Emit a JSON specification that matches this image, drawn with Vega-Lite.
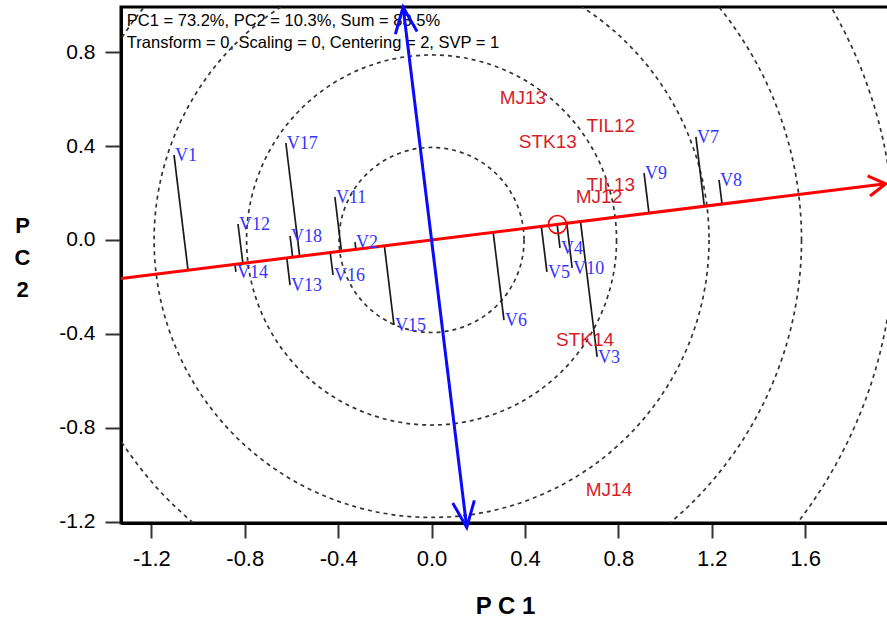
{
  "$schema": "https://vega.github.io/schema/vega-lite/v6.json",
  "width": 768,
  "height": 516,
  "autosize": "none",
  "padding": {"left": 121, "top": 7, "right": 0, "bottom": 95},
  "background": "white",
  "config": {
    "view": {"stroke": "black", "strokeWidth": 3},
    "font": "Liberation Sans"
  },
  "datasets": {
    "notes": [
      {"text": "PC1 = 73.2%, PC2 = 10.3%, Sum = 83.5%", "x": -1.305, "y": 0.933},
      {"text": "Transform = 0, Scaling = 0, Centering = 2, SVP = 1", "x": -1.305, "y": 0.839}
    ],
    "circles": [
      {"x": 0, "y": 0, "r": 0.395},
      {"x": 0, "y": 0, "r": 0.79},
      {"x": 0, "y": 0, "r": 1.185},
      {"x": 0, "y": 0, "r": 1.58},
      {"x": 0, "y": 0, "r": 1.975}
    ],
    "genotypes": [
      {"name": "V1", "x": -1.103, "y": 0.362, "projx": -1.043, "projy": -0.128},
      {"name": "V17", "x": -0.624, "y": 0.413, "projx": -0.565, "projy": -0.069},
      {"name": "V12", "x": -0.829, "y": 0.068, "projx": -0.808, "projy": -0.099},
      {"name": "V14", "x": -0.838, "y": -0.136, "projx": -0.842, "projy": -0.104},
      {"name": "V18", "x": -0.606, "y": 0.017, "projx": -0.595, "projy": -0.073},
      {"name": "V13", "x": -0.606, "y": -0.192, "projx": -0.62, "projy": -0.076},
      {"name": "V11", "x": -0.414, "y": 0.183, "projx": -0.386, "projy": -0.047},
      {"name": "V16", "x": -0.422, "y": -0.149, "projx": -0.434, "projy": -0.053},
      {"name": "V2", "x": -0.328, "y": -0.009, "projx": -0.324, "projy": -0.04},
      {"name": "V15", "x": -0.161, "y": -0.362, "projx": -0.202, "projy": -0.025},
      {"name": "V6", "x": 0.31, "y": -0.341, "projx": 0.264, "projy": 0.032},
      {"name": "V5", "x": 0.494, "y": -0.136, "projx": 0.47, "projy": 0.058},
      {"name": "V4", "x": 0.55, "y": -0.034, "projx": 0.538, "projy": 0.066},
      {"name": "V10", "x": 0.602, "y": -0.119, "projx": 0.579, "projy": 0.071},
      {"name": "V3", "x": 0.709, "y": -0.498, "projx": 0.638, "projy": 0.078},
      {"name": "V9", "x": 0.91, "y": 0.285, "projx": 0.931, "projy": 0.115},
      {"name": "V7", "x": 1.132, "y": 0.439, "projx": 1.168, "projy": 0.144},
      {"name": "V8", "x": 1.231, "y": 0.256, "projx": 1.244, "projy": 0.153}
    ],
    "environments": [
      {"name": "MJ13", "x": 0.391, "y": 0.605},
      {"name": "TIL12", "x": 0.768, "y": 0.486},
      {"name": "STK13", "x": 0.498, "y": 0.417},
      {"name": "TIL13", "x": 0.768, "y": 0.234},
      {"name": "MJ12", "x": 0.717, "y": 0.183},
      {"name": "STK14", "x": 0.657, "y": -0.426},
      {"name": "MJ14", "x": 0.76, "y": -1.065}
    ],
    "axesLines": [
      {"line": "AEA", "x": -1.33, "y": -0.1636, "x2": 1.945, "y2": 0.2392},
      {"line": "ATC", "x": -0.122, "y": 0.992, "x2": 0.1506, "y2": -1.224}
    ],
    "arrows": [
      {"line": "AEA", "end": "right", "x": 1.945, "y": 0.2392},
      {"line": "ATC", "end": "top", "x": -0.122, "y": 0.992},
      {"line": "ATC", "end": "bottom", "x": 0.1506, "y": -1.224}
    ],
    "meanEnv": [
      {"x": 0.539, "y": 0.066}
    ]
  },
  "encoding": {
    "x": {
      "field": "x",
      "type": "quantitative",
      "scale": {"domain": [-1.33, 1.959], "nice": false, "zero": false},
      "axis": {
        "values": [-1.2, -0.8, -0.4, 0, 0.4, 0.8, 1.2, 1.6],
        "labelExpr": "replace(format(datum.value, '.1f'), '\u2212', '-')",
        "grid": false,
        "domainColor": "black",
        "domainWidth": 3,
        "tickColor": "#333333",
        "tickWidth": 2,
        "tickSize": 15,
        "labelFont": "Liberation Sans",
        "labelFontSize": 22,
        "labelColor": "black",
        "labelPadding": 10,
        "title": "P C 1",
        "titleFont": "Liberation Sans",
        "titleFontSize": 24,
        "titleFontWeight": "bold",
        "titleColor": "black",
        "titleBaseline": "middle",
        "titleY": 83
      }
    },
    "y": {
      "field": "y",
      "type": "quantitative",
      "scale": {"domain": [-1.205, 0.992], "nice": false, "zero": false},
      "axis": {
        "values": [-1.2, -0.8, -0.4, 0, 0.4, 0.8],
        "labelExpr": "replace(format(datum.value, '.1f'), '\u2212', '-')",
        "grid": false,
        "domainColor": "black",
        "domainWidth": 3,
        "tickColor": "#333333",
        "tickWidth": 2,
        "tickSize": 16,
        "labelFont": "Liberation Sans",
        "labelFontSize": 21,
        "labelColor": "black",
        "labelPadding": 10,
        "title": ["P", "C", "2"],
        "titleAngle": 0,
        "titleFont": "Liberation Sans",
        "titleFontSize": 22,
        "titleFontWeight": "bold",
        "titleColor": "black",
        "titleLineHeight": 32,
        "titleAlign": "center",
        "titleBaseline": "middle",
        "titleX": -99,
        "titleY": 218
      }
    }
  },
  "layer": [
    {
      "data": {"name": "notes"},
      "mark": {"type": "text", "align": "left", "baseline": "middle", "font": "Liberation Sans", "fontSize": 16.5, "color": "black"},
      "encoding": {"text": {"field": "text"}}
    },
    {
      "data": {"name": "circles"},
      "mark": {"type": "point", "shape": "circle", "filled": false, "clip": true, "stroke": "#333333", "strokeWidth": 1.7, "strokeDash": [4, 4], "opacity": 1},
      "encoding": {
        "size": {"field": "r", "type": "quantitative", "scale": {"type": "pow", "exponent": 2, "domain": [0, 2], "range": [0, 877219]}, "legend": null}
      }
    },
    {
      "data": {"name": "genotypes"},
      "mark": {"type": "rule", "color": "#1a1a1a", "strokeWidth": 1.7},
      "encoding": {
        "x2": {"field": "projx"},
        "y2": {"field": "projy"}
      }
    },
    {
      "data": {"name": "axesLines"},
      "mark": {"type": "rule", "strokeWidth": 3},
      "encoding": {
        "x2": {"field": "x2"},
        "y2": {"field": "y2"},
        "color": {"field": "line", "type": "nominal", "scale": {"domain": ["AEA", "ATC"], "range": ["#FF0000", "#0A0AFF"]}, "legend": null}
      }
    },
    {
      "data": {"name": "arrows"},
      "transform": [{"filter": "datum.end == 'right'"}],
      "mark": {"type": "point", "shape": "M -1 -0.6 L 0 0 L -1 0.6", "filled": false, "stroke": "#FF0000", "strokeWidth": 3, "size": 1156, "angle": -7, "opacity": 1}
    },
    {
      "data": {"name": "arrows"},
      "transform": [{"filter": "datum.end == 'top'"}],
      "mark": {"type": "point", "shape": "M -1 -0.42 L 0 0 L -1 0.42", "filled": false, "stroke": "#0A0AFF", "strokeWidth": 3, "size": 2704, "angle": -97, "opacity": 1}
    },
    {
      "data": {"name": "arrows"},
      "transform": [{"filter": "datum.end == 'bottom'"}],
      "mark": {"type": "point", "shape": "M -1 -0.42 L 0 0 L -1 0.42", "filled": false, "stroke": "#0A0AFF", "strokeWidth": 3, "size": 2704, "angle": 83, "opacity": 1}
    },
    {
      "data": {"name": "meanEnv"},
      "mark": {"type": "point", "shape": "circle", "filled": false, "stroke": "#FF0000", "strokeWidth": 1.5, "size": 324, "opacity": 1}
    },
    {
      "data": {"name": "genotypes"},
      "mark": {"type": "text", "align": "left", "baseline": "middle", "dx": 1, "dy": 1, "font": "Liberation Serif", "fontSize": 18, "color": "#3535FF"},
      "encoding": {"text": {"field": "name"}}
    },
    {
      "data": {"name": "environments"},
      "mark": {"type": "text", "align": "center", "baseline": "middle", "font": "Liberation Sans", "fontSize": 19, "color": "#D81E2C"},
      "encoding": {"text": {"field": "name"}}
    }
  ]
}
